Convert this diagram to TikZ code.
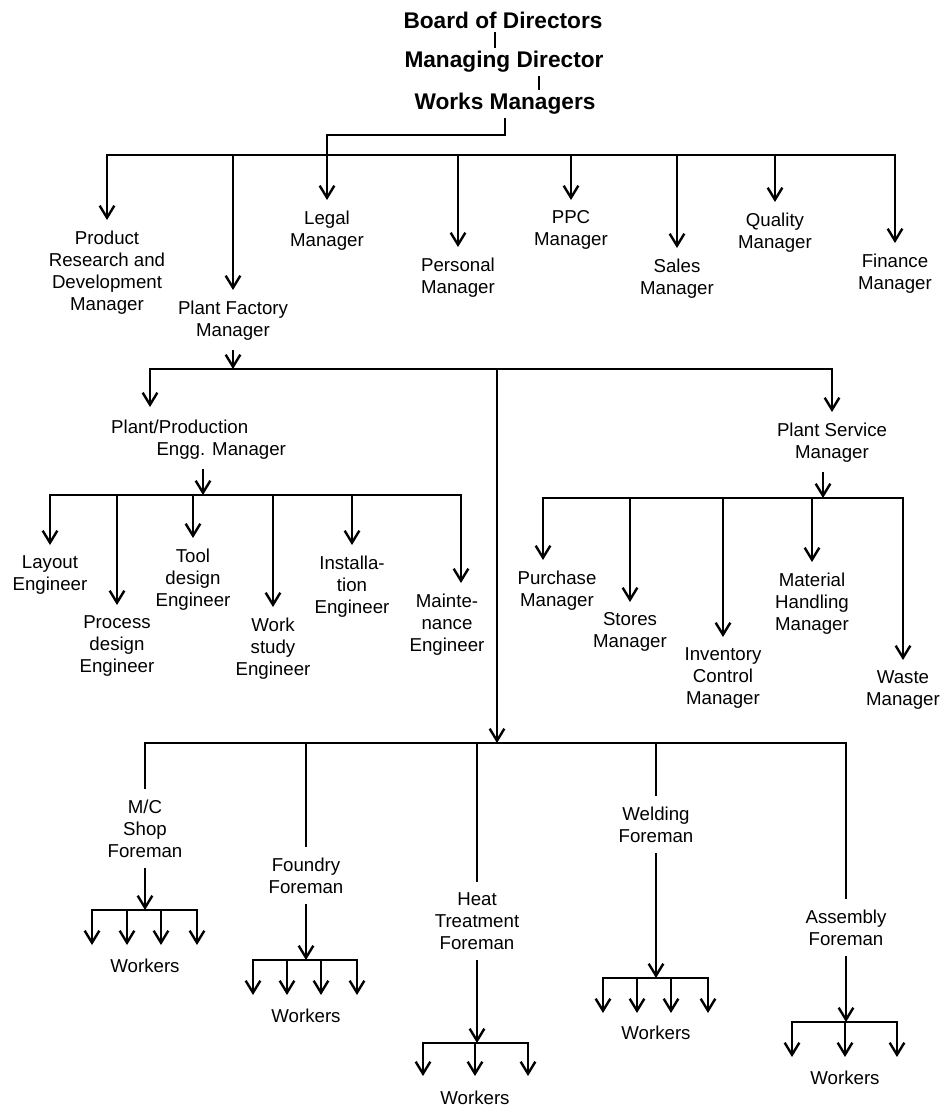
\documentclass[tikz,border=0pt]{standalone}
\usepackage{fontspec}
\setmainfont{Liberation Sans}
\usetikzlibrary{arrows.meta,calc}
\begin{document}
\begin{tikzpicture}[x=0.75pt,y=-0.75pt,
  line width=1.8pt,
  lbl/.style={font=\fontsize{14}{16.5}\selectfont, align=center, inner xsep=0pt, inner ysep=7pt, anchor=north},
  wrk/.style={font=\fontsize{14}{16.5}\selectfont, inner sep=0pt},
  ttl/.style={font=\fontsize{17}{20}\selectfont\bfseries, inner sep=2pt},
  arr/.style={-{Straight Barb[length=9pt,width=11pt]}},
  bus/.style={line cap=rect}]
\useasboundingbox (0,0) rectangle (952,1110);

% ---------- top of the chain ----------
\node[ttl] (board) at (503,20) {Board of Directors};
\node[ttl] (md) at (504,62) {Managing Director};
\node[ttl] (works) at (505,104) {Works Managers};
\coordinate (t1) at (495,0);
\coordinate (t2) at (539,0);
\draw[line width=1.1pt] (board.south -| t1) -- (md.north -| t1);
\draw[line width=1.1pt] (md.south -| t2) -- (works.north -| t2);

% ---------- department managers ----------
\node[lbl] (prd)   at (107,220) {Product\\Research and\\Development\\Manager};
\node[lbl] (pfm)   at (233,290) {Plant Factory\\Manager};
\node[lbl] (legal) at (327,200) {Legal\\Manager};
\node[lbl] (pers)  at (458,247) {Personal\\Manager};
\node[lbl] (ppc)   at (571,200) {PPC\\Manager};
\node[lbl] (sales) at (677,248) {Sales\\Manager};
\node[lbl] (qual)  at (775,202) {Quality\\Manager};
\node[lbl] (fin)   at (895,243) {Finance\\Manager};

\coordinate (b1) at (0,155);
\coordinate (jw) at (327,135);
\draw[bus] (b1 -| prd.north) -- (b1 -| fin.north);
\draw[arr] (works.south) |- (jw) -- (legal.north);
\foreach \n in {prd,pfm,pers,ppc,sales,qual,fin}
  \draw[arr] (b1 -| \n.north) -- (\n.north);

% ---------- plant factory level ----------
\coordinate (b2) at (0,369);
\draw[arr] (pfm.south) -- (pfm.south |- b2);

\coordinate (ppetip) at (150,407);
\node[lbl, anchor=north west, align=left] (ppe) at (110,409)
  {Plant/Production\\\hspace*{34pt}Engg. Manager};
\node[lbl] (psm) at (832,412) {Plant Service\\Manager};
\coordinate (trunk) at (497,743);

\draw[bus] (b2 -| ppetip) -- (b2 -| psm.north);
\draw[arr] (b2 -| ppetip) -- (ppetip);
\draw[arr] (b2 -| psm.north) -- (psm.north);
\draw[arr] (b2 -| trunk) -- (trunk);

% ---------- production engineering ----------
\coordinate (b3) at (0,495);
\coordinate (ppex) at (203,0);
\draw[arr] (ppe.south -| ppex) -- (b3 -| ppex);

\node[lbl] (lay)  at (50,545)  {Layout\\Engineer};
\node[lbl] (proc) at (117,605) {Process\\design\\Engineer};
\node[lbl] (tool) at (193,538) {Tool\\design\\Engineer};
\node[lbl] (work) at (273,607) {Work\\study\\Engineer};
\node[lbl] (inst) at (352,545) {Installa-\\tion\\Engineer};
\node[lbl] (mnt)  at (447,583) {Mainte-\\nance\\Engineer};
\coordinate (mnttip) at (461,583);

\draw[bus] (b3 -| lay.north) -- (b3 -| mnttip);
\foreach \n in {lay,proc,tool,work,inst}
  \draw[arr] (b3 -| \n.north) -- (\n.north);
\draw[arr] (b3 -| mnttip) -- (mnttip);

% ---------- plant services ----------
\coordinate (b4) at (0,498);
\coordinate (psmx) at (823,0);
\draw[arr] (psm.south -| psmx) -- (b4 -| psmx);

\node[lbl] (pur) at (557,560) {Purchase\\Manager};
\coordinate (purtip) at (543,560);
\node[lbl] (sto) at (630,602) {Stores\\Manager};
\node[lbl] (inv) at (723,637) {Inventory\\Control\\Manager};
\node[lbl] (mat) at (812,562) {Material\\Handling\\Manager};
\node[lbl] (was) at (903,660) {Waste\\Manager};

\draw[bus] (b4 -| purtip) -- (b4 -| was.north);
\draw[arr] (b4 -| purtip) -- (purtip);
\foreach \n in {sto,inv,mat,was}
  \draw[arr] (b4 -| \n.north) -- (\n.north);

% ---------- shop foremen ----------
\node[lbl] (mcs)  at (145,789) {M/C\\Shop\\Foreman};
\node[lbl] (fou)  at (306,847) {Foundry\\Foreman};
\node[lbl] (heat) at (477,882) {Heat\\Treatment\\Foreman};
\node[lbl] (weld) at (656,796) {Welding\\Foreman};
\node[lbl] (asm)  at (846,899) {Assembly\\Foreman};

\draw[bus] (trunk -| mcs.north) -- (trunk -| asm.north);
\foreach \n in {mcs,fou,heat,weld,asm}
  \draw (trunk -| \n.north) -- (\n.north);

% ---------- workers under each foreman ----------
% M/C shop
\coordinate (mb) at (0,910);
\coordinate (m1) at (92,945);  \coordinate (m2) at (127,945);
\coordinate (m3) at (161,945); \coordinate (m4) at (197,945);
\draw[arr] (mcs.south) -- (mcs.south |- mb);
\draw[bus] (m1 |- mb) -- (m4 |- mb);
\foreach \i in {1,...,4} \draw[arr] (m\i |- mb) -- (m\i);
\node[wrk] (mw) at (145,966) {Workers};

% Foundry
\coordinate (fb) at (0,960);
\coordinate (f1) at (253,995); \coordinate (f2) at (287,995);
\coordinate (f3) at (321,995); \coordinate (f4) at (357,995);
\draw[arr] (fou.south) -- (fou.south |- fb);
\draw[bus] (f1 |- fb) -- (f4 |- fb);
\foreach \i in {1,...,4} \draw[arr] (f\i |- fb) -- (f\i);
\node[wrk] (fw) at (306,1016) {Workers};

% Heat treatment
\coordinate (hb) at (0,1043);
\coordinate (h1) at (423,1076); \coordinate (h2) at (475,1076);
\coordinate (h3) at (528,1076);
\draw[arr] (heat.south) -- (heat.south |- hb);
\draw[bus] (h1 |- hb) -- (h3 |- hb);
\foreach \i in {1,...,3} \draw[arr] (h\i |- hb) -- (h\i);
\node[wrk] (hw) at (475,1098) {Workers};

% Welding
\coordinate (wb) at (0,978);
\coordinate (w1) at (603,1013); \coordinate (w2) at (637,1013);
\coordinate (w3) at (671,1013); \coordinate (w4) at (708,1013);
\draw[arr] (weld.south) -- (weld.south |- wb);
\draw[bus] (w1 |- wb) -- (w4 |- wb);
\foreach \i in {1,...,4} \draw[arr] (w\i |- wb) -- (w\i);
\node[wrk] (ww) at (656,1033) {Workers};

% Assembly
\coordinate (ab) at (0,1022);
\coordinate (a1) at (792,1057); \coordinate (a2) at (845,1057);
\coordinate (a3) at (897,1057);
\draw[arr] (asm.south) -- (asm.south |- ab);
\draw[bus] (a1 |- ab) -- (a3 |- ab);
\foreach \i in {1,...,3} \draw[arr] (a\i |- ab) -- (a\i);
\node[wrk] (aw) at (845,1078) {Workers};
\end{tikzpicture}
\end{document}
